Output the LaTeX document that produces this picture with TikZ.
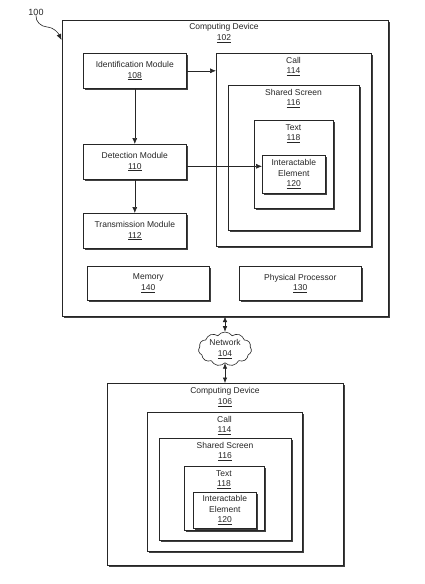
\documentclass[tikz,border=0pt]{standalone}
\usepackage{fontspec}
\setmainfont{Liberation Sans}
\usetikzlibrary{shadows,shapes.symbols,arrows.meta}
\begin{document}
\begin{tikzpicture}[x=1pt,y=-1pt,
  box/.style={draw=black!85, line width=0.6pt, fill=white,
    drop shadow={shadow xshift=1.6pt, shadow yshift=-1.6pt, fill=black!75, opacity=1},
    inner sep=0pt, anchor=north west, align=center,
    font=\fontsize{8.5}{10.5}\selectfont, text=black!85},
  ttl/.style={inner sep=0pt, align=center, font=\fontsize{8.5}{10.5}\selectfont, text=black!85},
  arr/.style={draw=black!85, line width=0.6pt, -{Latex[length=6pt,width=5pt]}},
  darr/.style={draw=black!85, line width=0.6pt, {Latex[length=5.5pt,width=4.5pt]}-{Latex[length=5.5pt,width=4.5pt]}}
]
\useasboundingbox[fill=white] (0,0) rectangle (424,584);

% label 100
\node[ttl, font=\fontsize{9}{10}\selectfont] (l100) at (36,12) {100};

% Computing device 102
\node[box, minimum width=326pt, minimum height=296pt] (cd1) at (62,20) {};
\node[ttl] (cd1t) at (224,33) {Computing Device\\\underline{102}};
\coordinate (cd1arr) at (61.5,40);
\draw[arr] (l100.south) to[out=-95,in=175] (47,27) to[out=-5,in=115] (cd1arr);

\node[box, minimum width=103pt, minimum height=35pt] (ident) at (83,53) {Identification Module\\\underline{108}};
\node[box, minimum width=103pt, minimum height=35pt] (det) at (83,144) {Detection Module\\\underline{110}};
\node[box, minimum width=103pt, minimum height=35pt] (trans) at (83,213) {Transmission Module\\\underline{112}};
\node[box, minimum width=122pt, minimum height=34pt] (mem) at (87,266) {Memory\\\underline{140}};
\node[box, minimum width=122pt, minimum height=34pt] (proc) at (239,266) {Physical Processor\\\underline{130}};

\node[box, minimum width=155pt, minimum height=193pt] (call1) at (216,53) {};
\node[ttl] (call1t) at (293.5,66.5) {Call\\\underline{114}};
\node[box, minimum width=131pt, minimum height=145pt] (ss1) at (228,85) {};
\node[ttl] (ss1t) at (293.5,98.5) {Shared Screen\\\underline{116}};
\node[box, minimum width=79pt, minimum height=88pt] (tx1) at (254,120) {};
\node[ttl] (tx1t) at (293.5,133.5) {Text\\\underline{118}};
\node[box, minimum width=63pt, minimum height=38pt] (ie1) at (262,155) {Interactable\\Element\\\underline{120}};

\draw[arr] (ident.east) -- (ident.east -| call1.west);
\draw[arr] (ident.south) -- (det.north);
\draw[arr] (det.south) -- (trans.north);
\draw[arr] ([yshift=-4.5pt]det.east) -- ([yshift=-4.5pt]det.east -| ie1.west);

% network
\node[cloud, cloud puffs=11, cloud puff arc=110, aspect=1.6, draw=black!85, line width=0.6pt, fill=white,
  inner sep=0pt, minimum width=53pt, minimum height=34pt, align=center,
  font=\fontsize{8.5}{10.5}\selectfont, text=black!85] (net) at (225,349) {Network\\\underline{104}};

% Computing device 106
\node[box, minimum width=236pt, minimum height=182pt] (cd2) at (107,383) {};
\node[ttl] (cd2t) at (225,397) {Computing Device\\\underline{106}};
\node[box, minimum width=155pt, minimum height=139pt] (call2) at (147,412) {};
\node[ttl] (call2t) at (224.5,425.5) {Call\\\underline{114}};
\node[box, minimum width=132pt, minimum height=102pt] (ss2) at (159,438) {};
\node[ttl] (ss2t) at (225,451.5) {Shared Screen\\\underline{116}};
\node[box, minimum width=80pt, minimum height=64pt] (tx2) at (184,466) {};
\node[ttl] (tx2t) at (224,479.5) {Text\\\underline{118}};
\node[box, minimum width=63pt, minimum height=36pt] (ie2) at (193,492) {Interactable\\Element\\\underline{120}};

\draw[darr] (net.north |- cd1.south) -- (net.north);
\draw[darr] (net.south) -- (net.south |- cd2.north);
\end{tikzpicture}
\end{document}
